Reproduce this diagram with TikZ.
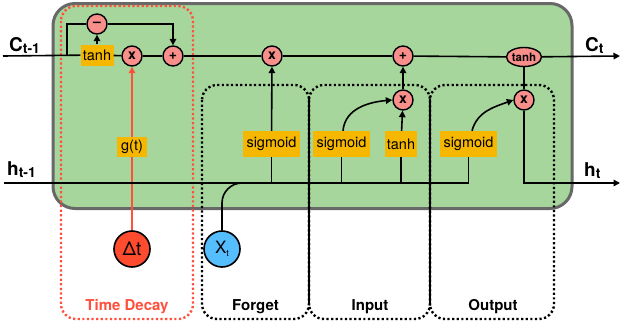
\documentclass[tikz,border=0pt]{standalone}
\usepackage{fontspec}
\setmainfont{TeX Gyre Heros}
\usetikzlibrary{arrows.meta,shapes.geometric}

\definecolor{cellgreen}{RGB}{166,214,156}
\definecolor{cellgray}{RGB}{104,104,104}
\definecolor{actorange}{RGB}{246,183,0}
\definecolor{oppink}{RGB}{248,143,138}
\definecolor{decayred}{RGB}{255,80,60}
\definecolor{dtred}{RGB}{255,75,46}
\definecolor{xblue}{RGB}{85,190,255}

\newcommand{\fs}[1]{\fontsize{#1}{#1}\selectfont}

\begin{document}
\begin{tikzpicture}[x=1pt,y=-1pt,
  cell/.style={fill=cellgreen,draw=cellgray,line width=3pt,rounded corners=22pt},
  gatebox/.style={draw=black,line width=2.4pt,dash pattern=on 2.2pt off 2.4pt,rounded corners=15pt},
  decaybox/.style={gatebox,draw=decayred},
  opc/.style={circle,fill=oppink,draw=black,line width=1.4pt,minimum size=20pt,inner sep=0pt,font=\bfseries\fs{14}},
  actbox/.style={fill=actorange,inner sep=0pt,minimum height=26pt,font=\fs{14.5}},
  wire/.style={line width=1.6pt},
  arr/.style={wire,-{Triangle[length=6.5pt,width=6.5pt]}},
  lbl/.style={anchor=base,font=\bfseries\fs{15}}
]
\useasboundingbox (0,0) rectangle (621,332);

% cell body
\draw[cell] (53,3.5) rectangle (572,208.5);

% gate regions
\draw[gatebox] (202,85) rectangle (309,319);
\draw[gatebox] (309,85) rectangle (430,319);
\draw[gatebox] (430,85) rectangle (554,319);
\draw[line width=2pt] (309,99) -- (309,305);
\draw[line width=2pt] (430,99) -- (430,305);
\draw[decaybox] (61,6) rectangle (193,319);

% gate captions
\node[lbl,text=decayred] (capD) at (127,310) {Time Decay};
\node[lbl] (capF) at (255.5,310) {Forget};
\node[lbl] (capI) at (370,310) {Input};
\node[lbl] (capO) at (493,310) {Output};

% state labels
\node[anchor=base west,inner sep=0pt] (lc0) at (9,51) {\bfseries\fs{19}C\raisebox{-2pt}{\fs{14}t-1}};
\node[anchor=base west,inner sep=0pt] (lh0) at (7,175) {\bfseries\fs{19}h\raisebox{-2pt}{\fs{14}t-1}};
\node[anchor=base west,inner sep=0pt] (lc1) at (585,51) {\bfseries\fs{19}C\raisebox{-2pt}{\fs{14}t}};
\node[anchor=base west,inner sep=0pt] (lh1) at (584,176) {\bfseries\fs{19}h\raisebox{-2pt}{\fs{14}t}};

% operators and activations
\node[opc] (minus) at (97,24) {--};
\node[actbox,minimum width=33pt,minimum height=21pt] (tanhD) at (97,55) {tanh};
\node[opc] (mulD) at (132,56) {x};
\node[opc] (addD) at (173,56) {+};
\node[opc] (mulF) at (272,56) {x};
\node[opc] (addI) at (403,56) {+};
\node[ellipse,fill=oppink,draw=black,line width=1.4pt,minimum width=35pt,minimum height=19pt,inner sep=0pt,font=\bfseries\fs{11.5}] (tanhO) at (524,57) {tanh};
\node[opc] (mulI) at (403,100) {x};
\node[opc] (mulO) at (524,100) {x};
\node[actbox,minimum width=57pt] (sigF) at (271.5,144) {sigmoid};
\node[actbox,minimum width=57pt] (sigI) at (341.5,144) {sigmoid};
\node[actbox,minimum width=32pt] (tanhI) at (401,144) {tanh};
\node[actbox,minimum width=57pt] (sigO) at (468.5,144) {sigmoid};
\node[actbox,minimum width=30pt,minimum height=20pt] (gt) at (132,147) {g(t)};
\node[circle,fill=dtred,draw=black,line width=1.6pt,minimum size=36pt,inner sep=0pt,font=\fs{19}] (dt) at (132,249) {Δt};
\node[circle,fill=xblue,draw=black,line width=1.6pt,minimum size=36pt,inner sep=0pt,font=\fs{17}] (xt) at (222,249) {X\raisebox{-2.5pt}{\fs{9}t}};

% free ends
\coordinate (cin) at (3,56);
\coordinate (cout) at (620,56);
\coordinate (hin) at (4,183);
\coordinate (hout) at (620,183);
\coordinate (br) at (67,56);
\coordinate (xtend) at (258,183);

% cell state path
\draw[wire] (cin) -- (tanhD);
\draw[wire] (tanhD) -- (mulD);
\draw[wire] (mulD) -- (addD);
\draw[wire] (addD) -- (mulF);
\draw[wire] (mulF) -- (addI);
\draw[wire] (addI) -- (tanhO);
\draw[arr] (tanhO) -- (cout);

% time decay branch
\draw[wire] (br) |- (minus);
\draw[arr] (minus) -| (addD);
\draw[arr] (tanhD) -- (minus);
\draw[wire,draw=decayred] (dt) -- (gt);
\draw[arr,draw=decayred] (gt) -- (mulD);

% hidden state path
\draw[wire] (hin) -| (sigO);
\draw[wire] (sigF.south |- hin) -- (sigF);
\draw[wire] (sigI.south |- hin) -- (sigI);
\draw[wire] (tanhI.south |- hin) -- (tanhI);
\draw[wire,rounded corners=20pt] (xt) |- (xtend);

% gates
\draw[arr] (sigF) -- (mulF);
\draw[arr] (tanhI) -- (mulI);
\draw[arr] (mulI) -- (addI);
\draw[arr] ([xshift=1.5pt]sigI.north) to[out=85,in=185] (mulI.west);
\draw[arr] ([xshift=3.5pt]sigO.north) to[out=75,in=200] (mulO.west);
\draw[wire] (tanhO) -- (mulO);
\draw[arr] (mulO) |- (hout);
\end{tikzpicture}
\end{document}
